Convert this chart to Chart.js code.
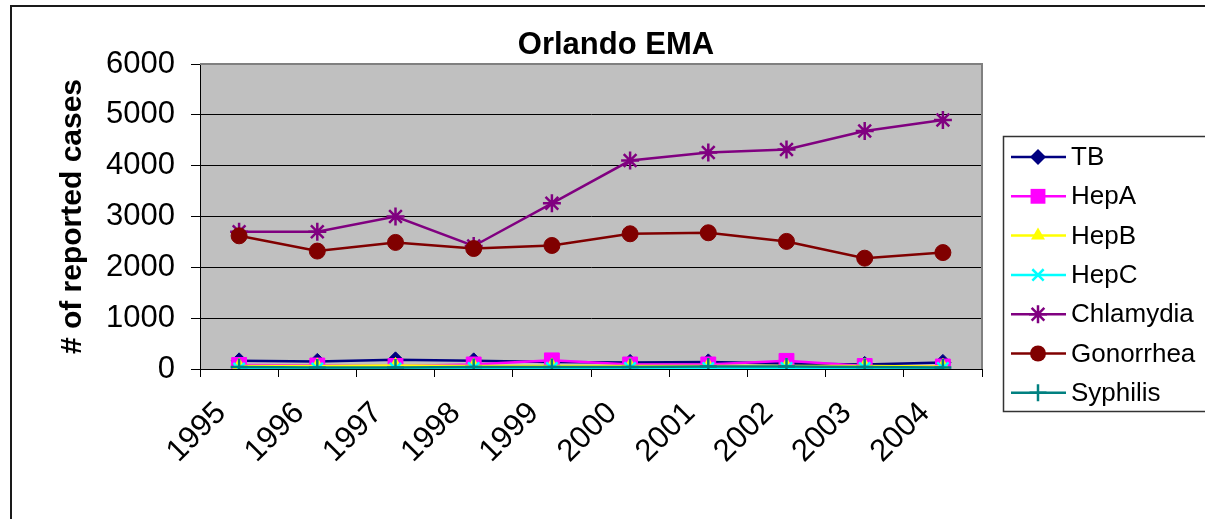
<!DOCTYPE html>
<html>
<head>
<meta charset="utf-8">
<script src="https://cdn.jsdelivr.net/npm/chart.js@4/dist/chart.umd.min.js"></script>
<style>
  html, body { margin: 0; padding: 0; background: #fff; }
  canvas { display: block; }
</style>
</head>
<body>
<canvas id="chart" width="1205" height="519"></canvas>
<script>
// データ
var years = ['1995', '1996', '1997', '1998', '1999', '2000', '2001', '2002', '2003', '2004'];
var yTicks = [0, 1000, 2000, 3000, 4000, 5000, 6000];
var tbData        = [160, 150, 180, 160, 140, 130, 140, 110, 90, 130];
var hepAData      = [80, 70, 60, 90, 170, 90, 90, 160, 60, 50];
var hepBData      = [60, 60, 70, 60, 60, 60, 60, 60, 60, 50];
var hepCData      = [10, 10, 10, 20, 20, 20, 20, 20, 20, 20];
var chlamydiaData = [2700, 2700, 3000, 2420, 3260, 4100, 4260, 4320, 4680, 4900];
var gonorrheaData = [2620, 2320, 2490, 2370, 2430, 2660, 2680, 2510, 2180, 2290];
var syphilisData  = [40, 30, 30, 40, 40, 40, 50, 50, 40, 30];

var FONT = "'Liberation Sans', Arial, sans-serif";

// 系列ごとのスタイル
function series(label, data, color, style, radius, idx) {
  var filled = (style === 'rectRot' || style === 'rect' || style === 'triangle' || style === 'circle');
  return {
    label: label,
    data: data,
    borderColor: color,
    backgroundColor: color,
    borderWidth: 2.5,
    pointStyle: style,
    pointRadius: radius,
    pointHoverRadius: radius,
    pointBorderColor: color,
    pointBackgroundColor: filled ? color : 'transparent',
    pointBorderWidth: filled ? 1 : 2.5,
    tension: 0,
    fill: false,
    order: 7 - idx
  };
}

var datasets = [
  series('TB', tbData, '#000080', 'rectRot', 8, 0),
  series('HepA', hepAData, '#FF00FF', 'rect', 10.5, 1),
  series('HepB', hepBData, '#FFFF00', 'triangle', 8, 2),
  series('HepC', hepCData, '#00FFFF', 'crossRot', 8, 3),
  series('Chlamydia', chlamydiaData, '#800080', 'star', 9, 4),
  series('Gonorrhea', gonorrheaData, '#800000', 'circle', 8, 5),
  series('Syphilis', syphilisData, '#008080', 'cross', 8.5, 6)
];

// 凡例用マーカー
function legendMarker(ctx, style, r, x, y) {
  ctx.beginPath();
  if (style === 'circle') {
    ctx.arc(x, y, r, 0, Math.PI * 2);
    ctx.fill();
  } else if (style === 'rect') {
    var s = r * Math.SQRT1_2;
    ctx.fillRect(x - s, y - s, s * 2, s * 2);
  } else if (style === 'rectRot') {
    ctx.moveTo(x - r, y); ctx.lineTo(x, y - r); ctx.lineTo(x + r, y); ctx.lineTo(x, y + r);
    ctx.closePath(); ctx.fill();
  } else if (style === 'triangle') {
    ctx.moveTo(x, y - r); ctx.lineTo(x + r * 0.87, y + r * 0.5); ctx.lineTo(x - r * 0.87, y + r * 0.5);
    ctx.closePath(); ctx.fill();
  } else {
    var d = r * Math.SQRT1_2;
    if (style === 'cross' || style === 'star') {
      ctx.moveTo(x, y - r); ctx.lineTo(x, y + r);
      ctx.moveTo(x - r, y); ctx.lineTo(x + r, y);
    }
    if (style === 'crossRot' || style === 'star') {
      ctx.moveTo(x - d, y - d); ctx.lineTo(x + d, y + d);
      ctx.moveTo(x - d, y + d); ctx.lineTo(x + d, y - d);
    }
    ctx.stroke();
  }
}

// 背景・枠・タイトル・凡例を描くプラグイン
var decor = {
  id: 'decor',
  beforeDraw: function(chart) {
    var ctx = chart.ctx, a = chart.chartArea;
    ctx.save();
    ctx.fillStyle = '#C0C0C0';
    ctx.fillRect(a.left, a.top, a.right - a.left, a.bottom - a.top);
    ctx.restore();
  },
  beforeDatasetsDraw: function(chart) {
    var ctx = chart.ctx, a = chart.chartArea;
    ctx.save();
    ctx.strokeStyle = '#808080';
    ctx.lineWidth = 2;
    ctx.beginPath();
    ctx.moveTo(a.left, a.top);
    ctx.lineTo(a.right, a.top);
    ctx.lineTo(a.right, a.bottom);
    ctx.stroke();
    ctx.restore();
  },
  afterDraw: function(chart) {
    var ctx = chart.ctx;
    ctx.save();
    // 外枠
    ctx.strokeStyle = '#1a1a1a';
    ctx.lineWidth = 2;
    ctx.strokeRect(11, 6, 1300, 600);
    // タイトル
    ctx.fillStyle = '#000';
    ctx.font = 'bold 31px ' + FONT;
    ctx.textAlign = 'center';
    ctx.textBaseline = 'alphabetic';
    ctx.fillText('Orlando EMA', 616, 54);
    // 凡例
    ctx.fillStyle = '#fff';
    ctx.fillRect(1003, 136, 210, 276);
    ctx.strokeStyle = '#333';
    ctx.lineWidth = 1.5;
    ctx.strokeRect(1003.5, 136.5, 210, 275);
    var y0 = 157, step = 39.3;
    chart.data.datasets.forEach(function(ds, i) {
      var y = y0 + i * step;
      ctx.strokeStyle = ds.borderColor;
      ctx.lineWidth = 2.5;
      ctx.beginPath();
      ctx.moveTo(1011, y);
      ctx.lineTo(1066, y);
      ctx.stroke();
      ctx.fillStyle = ds.borderColor;
      legendMarker(ctx, ds.pointStyle, ds.pointRadius, 1038, y);
      ctx.fillStyle = '#000';
      ctx.font = '26px ' + FONT;
      ctx.textAlign = 'left';
      ctx.textBaseline = 'middle';
      ctx.fillText(ds.label, 1071, y + 1);
    });
    ctx.restore();
  }
};

var ctx = document.getElementById('chart').getContext('2d');
var chart = new Chart(ctx, {
  type: 'line',
  data: { labels: years, datasets: datasets },
  options: {
    responsive: false,
    animation: false,
    devicePixelRatio: 1,
    layout: { padding: { left: 10, top: 64, right: 223, bottom: 0 } },
    plugins: {
      legend: { display: false },
      title: { display: false },
      tooltip: { enabled: false }
    },
    scales: {
      x: {
        offset: true,
        grid: {
          offset: true,
          drawOnChartArea: false,
          drawTicks: true,
          tickLength: 8,
          color: '#000'
        },
        border: { display: true, color: '#000', width: 1 },
        ticks: {
          minRotation: 45,
          maxRotation: 45,
          padding: 18,
          labelOffset: -18,
          color: '#000',
          font: { family: FONT, size: 31 }
        },
        afterFit: function(scale) { scale.height = 150; }
      },
      y: {
        min: 0,
        max: 6000,
        afterBuildTicks: function(scale) {
          scale.ticks = yTicks.map(function(v) { return { value: v }; });
        },
        grid: {
          color: '#000',
          lineWidth: 1,
          drawTicks: true,
          tickLength: 9
        },
        border: { display: true, color: '#000', width: 1 },
        ticks: {
          padding: 16,
          color: '#000',
          font: { family: FONT, size: 31 },
          callback: function(value) { return String(value); }
        },
        title: {
          display: true,
          text: '# of reported cases',
          color: '#000',
          font: { family: FONT, size: 30, weight: 'bold' },
          padding: { top: 45, bottom: 0 }
        },
        afterFit: function(scale) { scale.width = 190; }
      }
    }
  },
  plugins: [decor]
});
</script>
</body>
</html>
